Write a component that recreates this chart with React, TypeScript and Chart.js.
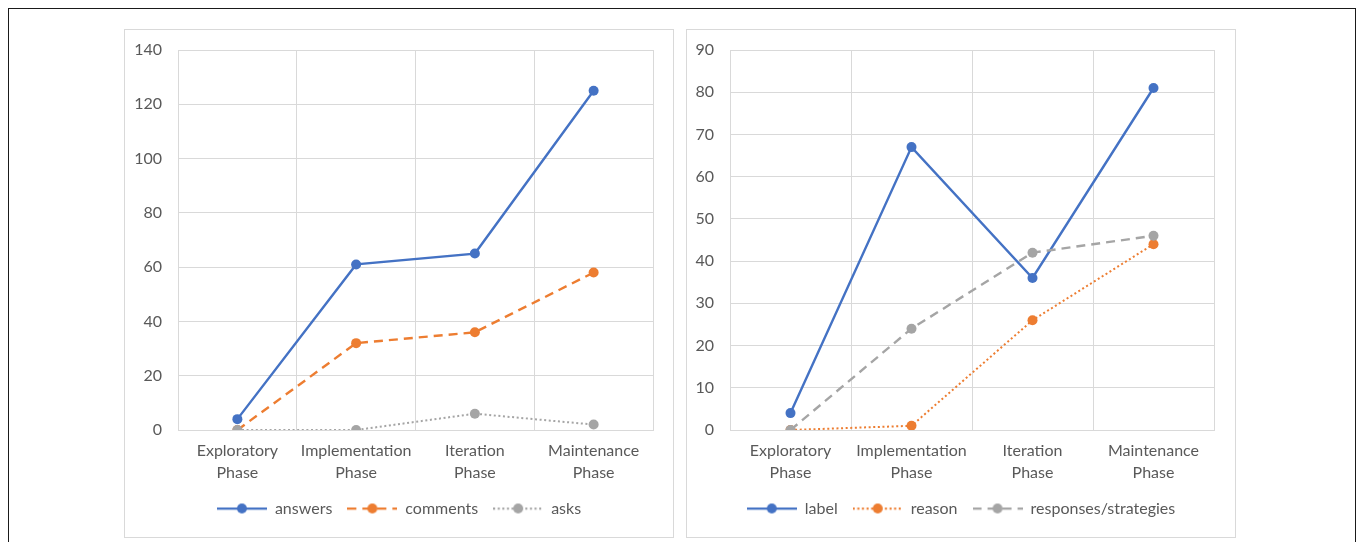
import React, { useEffect, useRef } from "react";
import { Chart, registerables } from "chart.js";

Chart.register(...registerables);

// Categories shared by both charts
const phases: string[][] = [
  ["Exploratory", "Phase"],
  ["Implementation", "Phase"],
  ["Iteration", "Phase"],
  ["Maintenance", "Phase"],
];

// Left chart series
const answers = [4, 61, 65, 125];
const comments = [0, 32, 36, 58];
const asks = [0, 0, 6, 2];

// Right chart series
const label = [4, 67, 36, 81];
const reason = [0, 1, 26, 44];
const responsesStrategies = [0, 24, 42, 46];

// Value axis ranges
const leftAxis = { max: 140, step: 20 };
const rightAxis = { max: 90, step: 10 };

const BLUE = "#4472C4";
const ORANGE = "#ED7D31";
const GRAY = "#A5A5A5";
const GRID = "#D9D9D9";
const TEXT = "#595959";
const FONT = "Lato";
const FONT_SIZE = 16;

const SOLID: number[] = [];
const DASH = [9, 6];
const DOT = [2, 2.6];

type Series = { name: string; data: number[]; color: string; dash: number[] };

// Small line + marker image used as the legend symbol
function legendSwatch(color: string, dash: number[]): HTMLCanvasElement {
  const c = document.createElement("canvas");
  c.width = 50;
  c.height = 14;
  const g = c.getContext("2d")!;
  g.strokeStyle = color;
  g.lineWidth = 2.25;
  g.setLineDash(dash);
  g.beginPath();
  g.moveTo(0, 7);
  g.lineTo(50, 7);
  g.stroke();
  g.setLineDash([]);
  g.fillStyle = color;
  g.beginPath();
  g.arc(25, 7, 5, 0, Math.PI * 2);
  g.fill();
  return c;
}

function LinePanel(props: {
  series: Series[];
  max: number;
  step: number;
  axisWidth: number;
  rightGap: number;
  left: number;
}) {
  const ref = useRef<HTMLCanvasElement>(null);

  useEffect(() => {
    const canvas = ref.current!;
    const swatches = props.series.map((s) => legendSwatch(s.color, s.dash));
    const n = props.series.length;
    const chart = new Chart(canvas, {
      type: "line",
      data: {
        labels: phases,
        datasets: props.series.map((s, i) => ({
          label: s.name,
          data: s.data,
          borderColor: s.color,
          backgroundColor: s.color,
          borderWidth: s.dash === DOT ? 2 : 2.4,
          borderDash: s.dash,
          pointRadius: 5,
          pointHoverRadius: 5,
          pointBorderWidth: 0,
          pointBackgroundColor: s.color,
          tension: 0,
          fill: false,
          order: n - i, // later series drawn on top
        })),
      },
      options: {
        responsive: false,
        maintainAspectRatio: false,
        animation: false,
        layout: { padding: { top: 20, bottom: 10.5, left: 0, right: 0 } },
        scales: {
          x: {
            offset: true,
            grid: { color: GRID, lineWidth: 1, offset: true, drawTicks: false },
            border: { color: GRID, width: 1 },
            ticks: {
              color: TEXT,
              font: { family: FONT, size: FONT_SIZE, lineHeight: 1.35 },
              padding: 10.5,
              maxRotation: 0,
              autoSkip: false,
            },
            afterFit: (s: any) => {
              s.height = 55.5;
              s.paddingLeft = 0;
              s.paddingRight = 0;
            },
          },
          y: {
            min: 0,
            max: props.max,
            grid: { color: GRID, lineWidth: 1, drawTicks: false },
            border: { color: GRID, width: 1 },
            ticks: {
              stepSize: props.step,
              color: TEXT,
              font: { family: FONT, size: FONT_SIZE },
              padding: 16,
            },
            afterFit: (s: any) => {
              s.width = props.axisWidth;
              s.paddingTop = 0;
              s.paddingBottom = 0;
            },
          },
          gap: {
            position: "right",
            display: true,
            grid: { display: false, drawTicks: false },
            border: { display: false },
            ticks: { display: false },
            afterFit: (s: any) => {
              s.width = props.rightGap;
              s.paddingTop = 0;
              s.paddingBottom = 0;
            },
          },
        },
        plugins: {
          tooltip: { enabled: false },
          legend: {
            position: "bottom",
            labels: {
              usePointStyle: true,
              pointStyleWidth: 50,
              padding: 15,
              color: TEXT,
              font: { family: FONT, size: FONT_SIZE },
              sort: (a: any, b: any) => a.datasetIndex - b.datasetIndex,
              generateLabels: (c: any) =>
                Chart.defaults.plugins.legend.labels
                  .generateLabels(c)
                  .map((item: any) => ({
                    ...item,
                    pointStyle: swatches[item.datasetIndex],
                  })),
            },
          },
        },
      } as any,
    });
    return () => chart.destroy();
  }, []);

  return (
    <div
      style={{
        position: "absolute",
        left: props.left,
        top: 20,
        width: 550,
        height: 509,
        border: `1px solid ${GRID}`,
        boxSizing: "border-box",
        background: "#fff",
      }}
    >
      <canvas ref={ref} width={548} height={507} style={{ display: "block" }} />
    </div>
  );
}

export default function App() {
  const leftSeries: Series[] = [
    { name: "answers", data: answers, color: BLUE, dash: SOLID },
    { name: "comments", data: comments, color: ORANGE, dash: DASH },
    { name: "asks", data: asks, color: GRAY, dash: DOT },
  ];
  const rightSeries: Series[] = [
    { name: "label", data: label, color: BLUE, dash: SOLID },
    { name: "reason", data: reason, color: ORANGE, dash: DOT },
    { name: "responses/strategies", data: responsesStrategies, color: GRAY, dash: DASH },
  ];
  return (
    <div
      style={{
        position: "fixed",
        left: 8,
        top: 8,
        width: 1348,
        height: 560,
        border: "1px solid #1a1a1a",
        boxSizing: "border-box",
        background: "#fff",
      }}
    >
      <LinePanel
        series={leftSeries}
        max={leftAxis.max}
        step={leftAxis.step}
        axisWidth={53}
        rightGap={20}
        left={115}
      />
      <LinePanel
        series={rightSeries}
        max={rightAxis.max}
        step={rightAxis.step}
        axisWidth={43}
        rightGap={21}
        left={677}
      />
    </div>
  );
}
